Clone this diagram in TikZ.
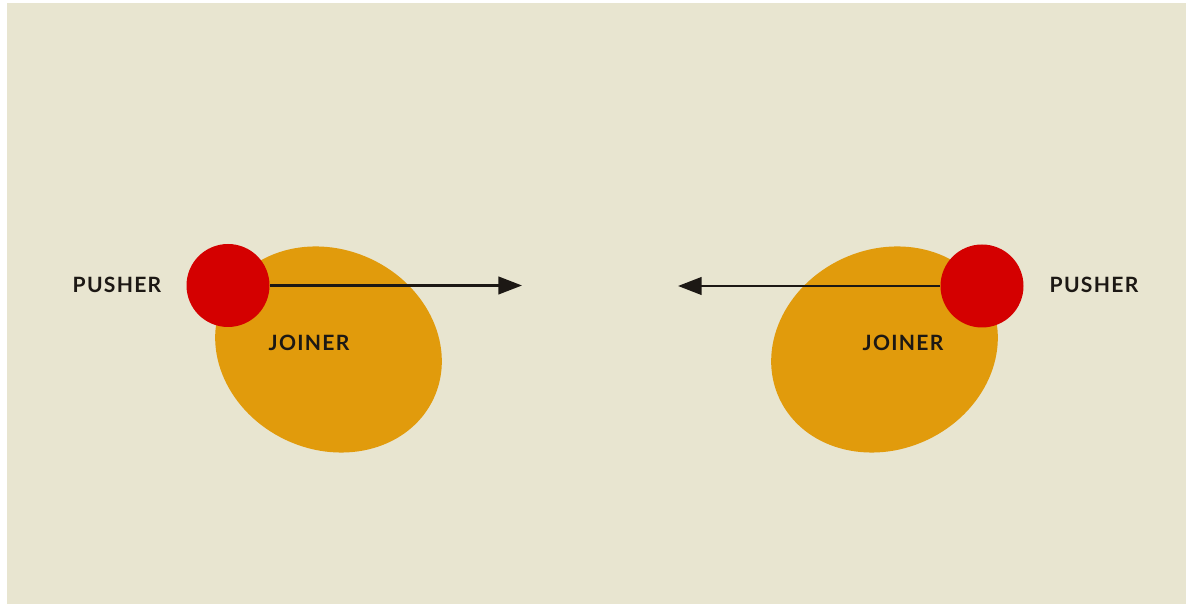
\documentclass[tikz,border=0pt]{standalone}
\usepackage{fontspec}
\setmainfont{Lato}
\usetikzlibrary{shapes.geometric, arrows.meta}
\definecolor{paper_beige}{RGB}{232, 229, 208}
\definecolor{joiner_gold}{RGB}{225, 155, 12}
\definecolor{pusher_red}{RGB}{212, 0, 0}
\definecolor{ink}{RGB}{28, 24, 20}

\begin{document}
\begin{tikzpicture}[
    joiner/.style={
        ellipse,
        fill=joiner_gold,
        draw=none,
        minimum width=4.64cm,
        minimum height=4.0cm,
        inner sep=0pt,
        rotate=#1
    },
    pusher/.style={
        circle,
        fill=pusher_red,
        draw=none,
        minimum size=1.66cm,
        inner sep=0pt
    },
    label/.style={
        text=ink,
        inner sep=0pt,
        font=\fontsize{12}{14}\selectfont\bfseries\addfontfeatures{LetterSpace=6}
    },
    push_arrow/.style={
        -{Triangle[length=13.5pt, width=10pt]},
        line width=1.5pt,
        draw=ink
    }
]

% Background
\fill[white] (0,0) rectangle (23.72,12.1);
\fill[paper_beige] (0.14,0.02) rectangle (23.72,12.04);

% Left side - joiner and pusher
\node[joiner=-25] (ljoiner) at (6.57,5.11) {};
\node[pusher] (lpusher) at (4.56,6.39) {};
\coordinate (ltip) at (10.44,6.39);
\node[label] (lpushtxt) at (2.34,6.4) {PUSHER};
\node[label] (ljointxt) at (6.18,5.24) {JOINER};

% Right side - joiner and pusher
\node[joiner=25] (rjoiner) at (17.69,5.11) {};
\node[pusher] (rpusher) at (19.64,6.38) {};
\coordinate (rtip) at (13.56,6.38);
\node[label] (rpushtxt) at (21.88,6.4) {PUSHER};
\node[label] (rjointxt) at (18.06,5.24) {JOINER};

% Arrows
\draw[push_arrow] (lpusher.east) -- (ltip);
\draw[push_arrow] (rpusher.west) -- (rtip);

\end{tikzpicture}
\end{document}
